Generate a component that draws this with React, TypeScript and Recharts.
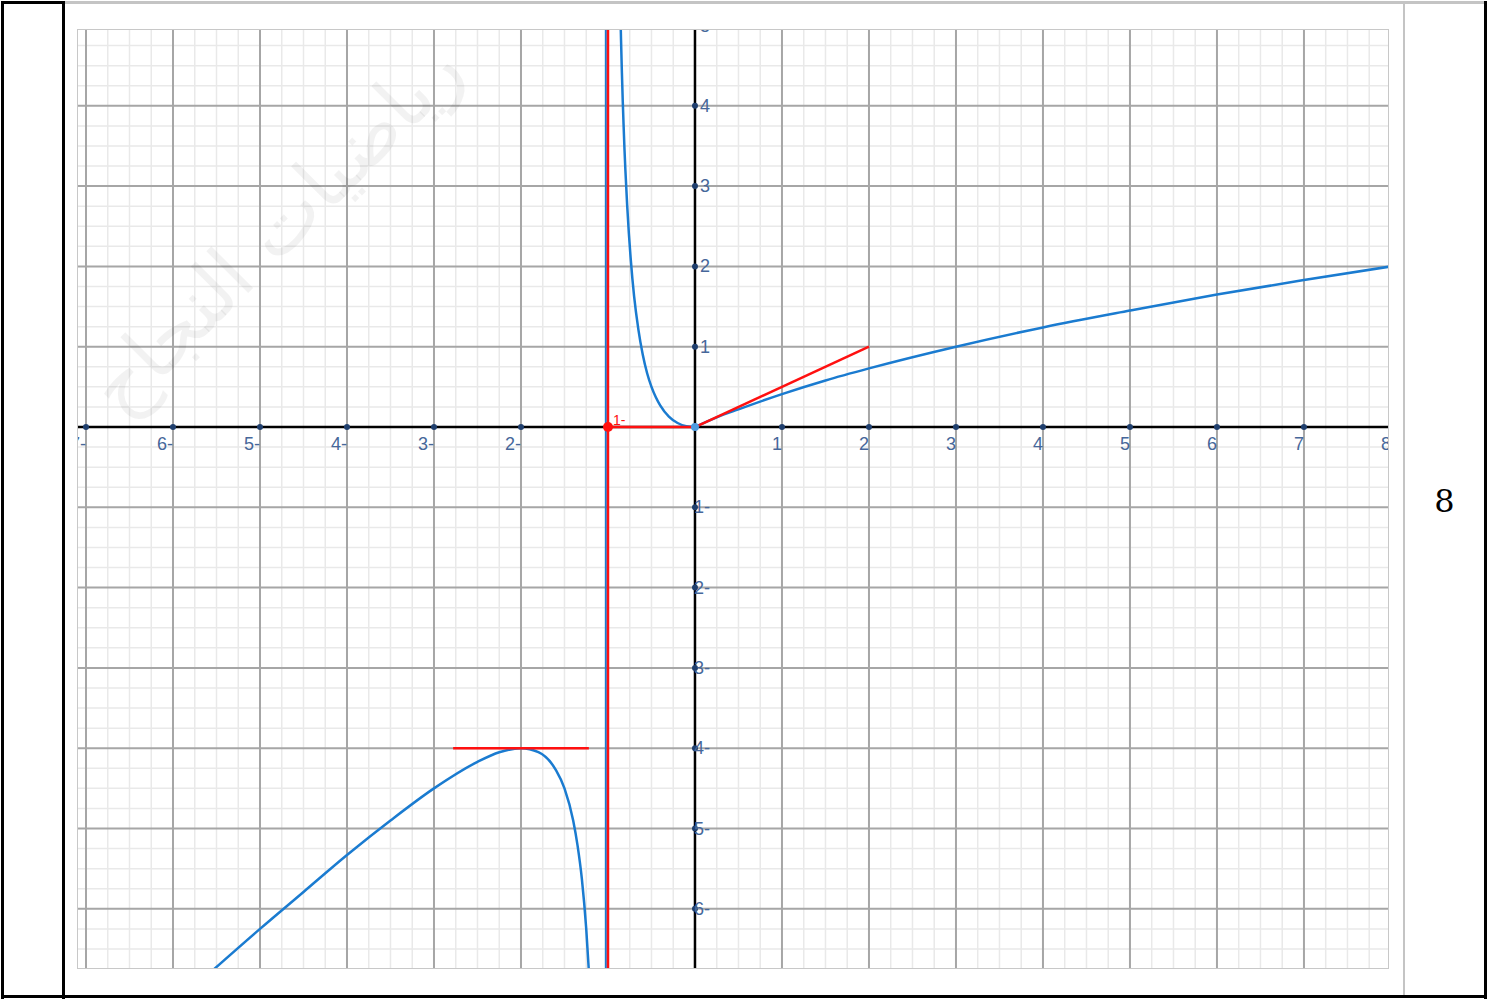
import React from 'react';
import { ComposedChart, Line, XAxis, YAxis, ReferenceLine, ReferenceDot, Scatter } from 'recharts';

// branch of the curve left of the asymptote x = -1
const leftX = [-5.6, -5, -4.5, -4, -3.5, -3, -2.5, -2.25, -2, -1.8, -1.6, -1.5, -1.4, -1.35, -1.3, -1.25, -1.22, -1.2];
const leftY = [-6.82, -6.25, -5.79, -5.33, -4.9, -4.5, -4.17, -4.05, -4, -4.05, -4.27, -4.5, -4.9, -5.21, -5.63, -6.25, -6.77, -7.2];

// branch between the asymptote and the origin
const midX = [-0.86, -0.85, -0.84, -0.83, -0.82, -0.81, -0.8, -0.78, -0.76, -0.74, -0.72, -0.7, -0.65, -0.6, -0.55, -0.5, -0.45, -0.4, -0.3, -0.2, -0.1, 0];
const midY = [5.28, 4.82, 4.41, 4.05, 3.74, 3.45, 3.2, 2.77, 2.41, 2.11, 1.85, 1.63, 1.21, 0.9, 0.67, 0.5, 0.37, 0.27, 0.13, 0.05, 0.01, 0];

// branch right of the origin
const rightX = [0, 0.25, 0.5, 1, 1.5, 2, 3, 4, 5, 6, 7, 8];
const rightY = [0, 0.12, 0.22, 0.41, 0.58, 0.73, 1, 1.24, 1.45, 1.65, 1.83, 2];

// red helper lines
const tangentX = [0, 2];
const tangentY = [0, 1];
const baseSegX = [-1, 0];
const baseSegY = [0, 0];
const maxLineX = [-2.78, -1.22];
const maxLineY = [-4, -4];
const asymptoteX = -1;

// axis ticks
const xTickValues = [-7, -6, -5, -4, -3, -2, -1, 1, 2, 3, 4, 5, 6, 7, 8];
const xTickLabels = ['7-', '6-', '5-', '4-', '3-', '2-', '', '1', '2', '3', '4', '5', '6', '7', '8'];
const yTickValues = [-6, -5, -4, -3, -2, -1, 1, 2, 3, 4, 5];
const yTickLabels = ['6-', '5-', '4-', '3-', '2-', '1-', '1', '2', '3', '4', '5'];

const X_MIN = -7.092;
const X_MAX = 7.966;
const Y_MIN = -6.737;
const Y_MAX = 4.944;

const zip = (xs: number[], ys: number[]) => xs.map((x, i) => ({ x, y: ys[i] }));

const minorX: number[] = [];
for (let i = -29; i <= 32; i++) if (i % 4 !== 0) minorX.push(i / 4);
const minorY: number[] = [];
for (let i = -27; i <= 20; i++) if (i % 4 !== 0) minorY.push(i / 4);
const majorX: number[] = [];
for (let i = -7; i <= 7; i++) if (i !== 0) majorX.push(i);
const majorY: number[] = [];
for (let i = -6; i <= 4; i++) if (i !== 0) majorY.push(i);

const BLUE = '#1a7bd0';
const RED = '#ff1010';
const TICK = '#1f3f6e';
const LABEL = '#46679a';
const FONT = 'Liberation Sans, Arial, sans-serif';

const xTickData = xTickValues.map((x, i) => ({ x, y: 0, label: xTickLabels[i] }));
const yTickData = yTickValues.map((y, i) => ({ x: 0, y, label: yTickLabels[i] }));

const XTick = (props: any) => {
  const { cx, cy, payload } = props;
  return (
    <g>
      <circle cx={cx} cy={cy} r={3} fill={TICK} />
      <text x={cx} y={cy + 23} textAnchor="end" fontSize={18} fill={LABEL} fontFamily={FONT}>
        {payload.label}
      </text>
    </g>
  );
};

const YTick = (props: any) => {
  const { cx, cy, payload } = props;
  return (
    <g>
      <circle cx={cx} cy={cy} r={3} fill={TICK} />
      <text x={cx + (payload.y < 0 ? -1 : 5)} y={cy + 6} textAnchor="start" fontSize={18} fill={LABEL} fontFamily={FONT}>
        {payload.label}
      </text>
    </g>
  );
};

const RedPoint = (props: any) => {
  const { cx, cy } = props;
  return (
    <g>
      <circle cx={cx} cy={cy} r={5} fill={RED} />
      <text x={cx + 5} y={cy - 2} fontSize={14} fill={RED} fontFamily={FONT}>
        1-
      </text>
    </g>
  );
};

export default function App() {
  return (
    <div style={{ position: 'absolute', left: 0, top: 0, width: 1503, height: 1000, background: '#fff' }}>
      {/* table borders */}
      <div style={{ position: 'absolute', left: 1, top: 1, width: 3, height: 998, background: '#000' }} />
      <div style={{ position: 'absolute', left: 1, top: 1, width: 64, height: 3, background: '#000' }} />
      <div style={{ position: 'absolute', left: 62, top: 1, width: 3, height: 998, background: '#000' }} />
      <div style={{ position: 'absolute', left: 65, top: 1, width: 1421, height: 3, background: '#c4c4c4' }} />
      <div style={{ position: 'absolute', left: 1403, top: 4, width: 2, height: 993, background: '#c4c4c4' }} />
      <div style={{ position: 'absolute', left: 1484, top: 1, width: 3, height: 998, background: '#000' }} />
      <div style={{ position: 'absolute', left: 1, top: 995, width: 1486, height: 3, background: '#000' }} />
      <div
        style={{
          position: 'absolute', left: 1405, width: 79, top: 481, textAlign: 'center',
          fontFamily: 'DejaVu Serif, serif', fontSize: 32, lineHeight: '40px', color: '#000',
        }}
      >
        8
      </div>
      {/* plot frame */}
      <div style={{ position: 'absolute', left: 77, top: 29, width: 1310, height: 938, border: '1.5px solid #c8c8c8' }} />
      <div style={{ position: 'absolute', left: 0, top: 0 }}>
        <ComposedChart width={1503} height={1000} margin={{ top: 30, left: 78, right: 115, bottom: 32 }}>
          <XAxis type="number" dataKey="x" domain={[X_MIN, X_MAX]} allowDataOverflow hide />
          <YAxis type="number" dataKey="y" domain={[Y_MIN, Y_MAX]} allowDataOverflow hide />
          {minorX.map((v) => (
            <ReferenceLine key={'mx' + v} x={v} stroke="#e9e9e9" strokeWidth={1.5} />
          ))}
          {minorY.map((v) => (
            <ReferenceLine key={'my' + v} y={v} stroke="#e9e9e9" strokeWidth={1.5} />
          ))}
          {majorX.map((v) => (
            <ReferenceLine key={'Mx' + v} x={v} stroke="#a6a6a6" strokeWidth={2} />
          ))}
          {majorY.map((v) => (
            <ReferenceLine key={'My' + v} y={v} stroke="#a6a6a6" strokeWidth={2} />
          ))}
          <ReferenceLine x={0} stroke="#000" strokeWidth={2.5} />
          <ReferenceLine y={0} stroke="#000" strokeWidth={2.5} />
          <ReferenceLine x={asymptoteX - 0.025} stroke={BLUE} strokeWidth={2} />
          <ReferenceLine x={asymptoteX} stroke={RED} strokeWidth={2.5} />
          <Line data={zip(leftX, leftY)} dataKey="y" type="monotone" stroke={BLUE} strokeWidth={2.5} dot={false} isAnimationActive={false} />
          <Line data={zip(midX, midY)} dataKey="y" type="monotone" stroke={BLUE} strokeWidth={2.5} dot={false} isAnimationActive={false} />
          <Line data={zip(rightX, rightY)} dataKey="y" type="monotone" stroke={BLUE} strokeWidth={2.5} dot={false} isAnimationActive={false} />
          <Line data={zip(baseSegX, baseSegY)} dataKey="y" type="linear" stroke={RED} strokeWidth={2.5} dot={false} isAnimationActive={false} />
          <Line data={zip(tangentX, tangentY)} dataKey="y" type="linear" stroke={RED} strokeWidth={2.5} dot={false} isAnimationActive={false} />
          <Line data={zip(maxLineX, maxLineY)} dataKey="y" type="linear" stroke={RED} strokeWidth={2.5} dot={false} isAnimationActive={false} />
          <Scatter data={xTickData} dataKey="y" shape={XTick} isAnimationActive={false} />
          <Scatter data={yTickData} dataKey="y" shape={YTick} isAnimationActive={false} />
          <ReferenceDot x={0} y={0} r={4} fill="#4d9be0" stroke="none" />
          <ReferenceDot x={asymptoteX} y={0} shape={RedPoint} />
        </ComposedChart>
      </div>
      {/* faint watermark */}
      <div
        style={{
          position: 'absolute', left: 275, top: 228, transform: 'translate(-50%, -50%) rotate(-45deg)',
          whiteSpace: 'nowrap', fontFamily: 'DejaVu Sans, sans-serif', fontSize: 78,
          color: 'rgba(0,0,0,0.05)', pointerEvents: 'none', direction: 'rtl',
        }}
      >
        رياضيات النجاح
      </div>
    </div>
  );
}
